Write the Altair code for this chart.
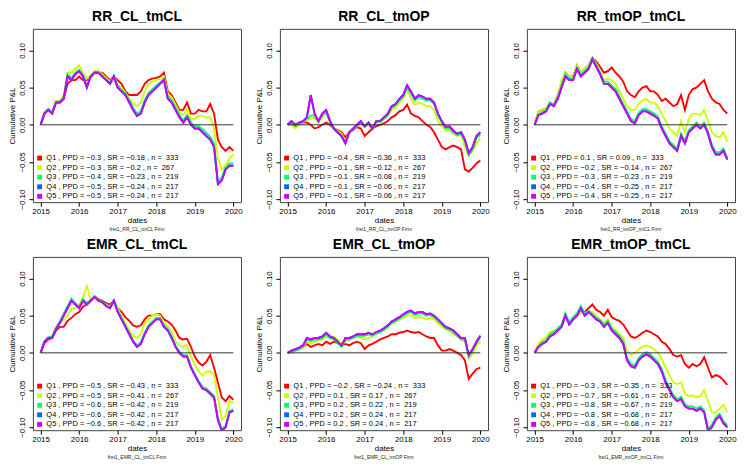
import altair as alt
import pandas as pd

FONT = "Liberation Sans"
DATES = [round(2015 + i * 0.1, 1) for i in range(51)]
COLORS = ["#FF0000", "#CCFF00", "#00FF66", "#0066FF", "#CC00FF"]
N = "n =\u00a0 "

# ---------------- RR_CL_tmCL ----------------
P1_Q1 = [0.0, 0.015, 0.02, 0.015, 0.03, 0.03, 0.035, 0.055, 0.06, 0.06, 0.065, 0.06, 0.06, 0.065, 0.07, 0.07, 0.07, 0.065, 0.06, 0.065, 0.06, 0.055, 0.045, 0.04, 0.04, 0.04, 0.045, 0.055, 0.06, 0.062, 0.063, 0.065, 0.07, 0.045, 0.04, 0.03, 0.02, 0.02, 0.03, 0.015, 0.015, 0.02, 0.018, 0.018, 0.028, 0.015, -0.02, -0.03, -0.035, -0.03, -0.035]
P1_Q2 = [0.0, 0.017, 0.022, 0.017, 0.032, 0.032, 0.04, 0.07, 0.07, 0.075, 0.08, 0.07, 0.062, 0.066, 0.072, 0.072, 0.068, 0.063, 0.058, 0.066, 0.055, 0.05, 0.043, 0.035, 0.028, 0.025, 0.03, 0.045, 0.055, 0.058, 0.06, 0.062, 0.065, 0.042, 0.037, 0.027, 0.017, 0.013, 0.022, 0.008, 0.008, 0.012, 0.012, 0.01, 0.01, -0.005, -0.045, -0.06, -0.055, -0.045, -0.04]
P1_Q3 = [0.0, 0.016, 0.021, 0.016, 0.031, 0.031, 0.037, 0.068, 0.063, 0.07, 0.074, 0.067, 0.053, 0.066, 0.071, 0.071, 0.066, 0.061, 0.057, 0.066, 0.052, 0.047, 0.042, 0.033, 0.023, 0.015, 0.018, 0.033, 0.043, 0.048, 0.053, 0.057, 0.062, 0.038, 0.033, 0.023, 0.013, 0.006, 0.013, 0.003, -0.002, -0.002, -0.006, -0.011, -0.016, -0.026, -0.076, -0.071, -0.057, -0.052, -0.052]
P1_Q5 = [0.0, 0.015, 0.02, 0.015, 0.03, 0.03, 0.035, 0.065, 0.06, 0.068, 0.072, 0.065, 0.05, 0.065, 0.07, 0.07, 0.065, 0.06, 0.055, 0.065, 0.05, 0.045, 0.04, 0.03, 0.02, 0.012, 0.015, 0.03, 0.04, 0.045, 0.05, 0.055, 0.06, 0.035, 0.03, 0.02, 0.01, 0.003, 0.01, 0.0, -0.005, -0.005, -0.01, -0.015, -0.02, -0.03, -0.08, -0.075, -0.06, -0.055, -0.055]
P1_Q4 = list(P1_Q5)
P1_LEG = ["Q1 , PPD = −0.3 , SR = −0.18 , " + N + "333",
          "Q2 , PPD = −0.3 , SR = −0.2 , " + N + "267",
          "Q3 , PPD = −0.4 , SR = −0.23 , " + N + "219",
          "Q4 , PPD = −0.5 , SR = −0.24 , " + N + "217",
          "Q5 , PPD = −0.5 , SR = −0.24 , " + N + "217"]

# ---------------- RR_CL_tmOP ----------------
P2_Q1 = [0.0, 0.003, -0.002, 0.0, 0.003, 0.003, 0.0, -0.005, -0.003, 0.0, 0.003, 0.0, -0.005, -0.007, -0.01, -0.017, -0.01, -0.007, -0.003, -0.005, -0.015, -0.01, -0.005, -0.002, 0.0, 0.002, 0.005, 0.01, 0.013, 0.018, 0.02, 0.027, 0.015, 0.012, 0.01, 0.005, 0.0, -0.003, -0.01, -0.02, -0.03, -0.033, -0.03, -0.028, -0.03, -0.033, -0.06, -0.063, -0.058, -0.052, -0.048]
P2_Q2 = [0.0, 0.0, -0.005, 0.0, 0.003, 0.007, 0.008, 0.01, 0.003, 0.01, 0.015, 0.005, -0.005, -0.008, -0.012, -0.022, -0.01, -0.005, -0.002, 0.003, -0.003, 0.0, -0.005, 0.003, 0.003, 0.008, 0.012, 0.02, 0.023, 0.03, 0.035, 0.048, 0.035, 0.027, 0.03, 0.028, 0.025, 0.025, 0.02, 0.005, -0.002, -0.008, -0.007, -0.012, -0.015, -0.013, -0.03, -0.042, -0.035, -0.025, -0.018]
P2_Q3 = [0.0, 0.004, -0.002, 0.002, 0.004, 0.008, 0.012, 0.013, 0.004, 0.013, 0.018, 0.004, -0.006, -0.011, -0.016, -0.025, -0.011, -0.006, -0.002, 0.004, -0.003, 0.002, -0.006, 0.004, 0.004, 0.008, 0.013, 0.023, 0.026, 0.033, 0.038, 0.05, 0.042, 0.033, 0.037, 0.035, 0.033, 0.033, 0.028, 0.013, 0.003, -0.005, -0.004, -0.01, -0.014, -0.012, -0.022, -0.041, -0.033, -0.018, -0.013]
P2_Q5 = [0.0, 0.005, 0.0, 0.003, 0.005, 0.01, 0.04, 0.015, 0.005, 0.015, 0.02, 0.005, -0.005, -0.01, -0.015, -0.025, -0.01, -0.005, 0.0, 0.005, -0.002, 0.003, -0.005, 0.005, 0.005, 0.01, 0.015, 0.025, 0.028, 0.035, 0.04, 0.053, 0.045, 0.035, 0.04, 0.038, 0.035, 0.035, 0.03, 0.015, 0.005, -0.003, -0.002, -0.008, -0.012, -0.01, -0.02, -0.038, -0.03, -0.015, -0.01]
P2_Q4 = list(P2_Q5)
P2_LEG = ["Q1 , PPD = −0.4 , SR = −0.36 , " + N + "333",
          "Q2 , PPD = −0.1 , SR = −0.12 , " + N + "267",
          "Q3 , PPD = −0.1 , SR = −0.08 , " + N + "219",
          "Q4 , PPD = −0.1 , SR = −0.06 , " + N + "217",
          "Q5 , PPD = −0.1 , SR = −0.06 , " + N + "217"]

# ---------------- RR_tmOP_tmCL ----------------
P3_Q1 = [0.0, 0.018, 0.02, 0.022, 0.03, 0.027, 0.04, 0.055, 0.07, 0.065, 0.065, 0.08, 0.07, 0.075, 0.08, 0.09, 0.085, 0.078, 0.07, 0.072, 0.077, 0.07, 0.065, 0.058, 0.045, 0.04, 0.037, 0.045, 0.05, 0.052, 0.045, 0.045, 0.04, 0.032, 0.035, 0.03, 0.025, 0.028, 0.04, 0.02, 0.04, 0.048, 0.05, 0.055, 0.06, 0.045, 0.035, 0.03, 0.028, 0.02, 0.015]
P3_Q2 = [0.0, 0.018, 0.02, 0.022, 0.03, 0.027, 0.04, 0.06, 0.07, 0.065, 0.065, 0.08, 0.07, 0.075, 0.08, 0.09, 0.082, 0.072, 0.06, 0.062, 0.06, 0.055, 0.045, 0.035, 0.025, 0.02, 0.02, 0.028, 0.033, 0.035, 0.03, 0.03, 0.025, 0.015, 0.005, -0.005, -0.01, -0.015, 0.005, -0.01, 0.008, 0.015, 0.015, 0.013, 0.02, 0.005, -0.01, -0.015, -0.017, -0.01, -0.023]
P3_Q3 = [0.0, 0.014, 0.017, 0.02, 0.03, 0.027, 0.037, 0.053, 0.068, 0.062, 0.062, 0.077, 0.067, 0.072, 0.077, 0.09, 0.08, 0.07, 0.058, 0.058, 0.053, 0.048, 0.038, 0.028, 0.018, 0.008, 0.005, 0.016, 0.021, 0.021, 0.018, 0.015, 0.011, -0.002, -0.012, -0.022, -0.027, -0.032, -0.012, -0.022, -0.007, -0.002, 0.003, -0.002, 0.003, -0.009, -0.027, -0.037, -0.037, -0.032, -0.044]
P3_Q5 = [0.0, 0.013, 0.015, 0.018, 0.028, 0.025, 0.035, 0.05, 0.065, 0.06, 0.06, 0.075, 0.065, 0.07, 0.075, 0.088, 0.078, 0.068, 0.055, 0.055, 0.05, 0.045, 0.035, 0.025, 0.015, 0.005, 0.002, 0.013, 0.018, 0.018, 0.015, 0.012, 0.008, -0.005, -0.015, -0.025, -0.03, -0.035, -0.015, -0.025, -0.01, -0.005, 0.0, -0.005, 0.0, -0.012, -0.03, -0.04, -0.04, -0.035, -0.047]
P3_Q4 = list(P3_Q5)
P3_LEG = ["Q1 , PPD = 0.1 , SR = 0.09 , " + N + "333",
          "Q2 , PPD = −0.2 , SR = −0.14 , " + N + "267",
          "Q3 , PPD = −0.3 , SR = −0.23 , " + N + "219",
          "Q4 , PPD = −0.4 , SR = −0.25 , " + N + "217",
          "Q5 , PPD = −0.4 , SR = −0.25 , " + N + "217"]

# ---------------- EMR_CL_tmCL ----------------
P4_Q1 = [0.0, 0.013, 0.018, 0.02, 0.03, 0.035, 0.035, 0.043, 0.047, 0.052, 0.055, 0.062, 0.065, 0.07, 0.076, 0.072, 0.07, 0.067, 0.065, 0.07, 0.06, 0.055, 0.048, 0.043, 0.037, 0.035, 0.037, 0.045, 0.05, 0.05, 0.052, 0.052, 0.045, 0.042, 0.038, 0.03, 0.02, 0.018, 0.019, 0.008, -0.005, -0.013, -0.017, -0.012, -0.003, -0.02, -0.04, -0.06, -0.065, -0.058, -0.063]
P4_Q2 = [0.0, 0.015, 0.02, 0.022, 0.033, 0.04, 0.045, 0.05, 0.06, 0.06, 0.065, 0.075, 0.09, 0.07, 0.075, 0.07, 0.068, 0.065, 0.062, 0.07, 0.06, 0.05, 0.04, 0.03, 0.023, 0.02, 0.025, 0.04, 0.045, 0.05, 0.052, 0.05, 0.04, 0.035, 0.03, 0.015, 0.01, 0.008, 0.01, -0.005, -0.015, -0.025, -0.03, -0.025, -0.025, -0.03, -0.06, -0.09, -0.085, -0.065, -0.068]
P4_Q3 = [0.0, 0.016, 0.021, 0.022, 0.034, 0.043, 0.053, 0.063, 0.073, 0.067, 0.062, 0.072, 0.067, 0.071, 0.076, 0.071, 0.069, 0.064, 0.061, 0.071, 0.057, 0.047, 0.037, 0.027, 0.017, 0.01, 0.014, 0.027, 0.037, 0.042, 0.047, 0.047, 0.037, 0.032, 0.022, 0.01, 0.002, -0.003, -0.003, -0.018, -0.028, -0.038, -0.046, -0.048, -0.053, -0.058, -0.088, -0.103, -0.098, -0.078, -0.076]
P4_Q5 = [0.0, 0.015, 0.02, 0.02, 0.032, 0.04, 0.05, 0.06, 0.07, 0.065, 0.06, 0.07, 0.065, 0.07, 0.075, 0.07, 0.068, 0.063, 0.06, 0.07, 0.055, 0.045, 0.035, 0.025, 0.015, 0.008, 0.012, 0.025, 0.035, 0.04, 0.045, 0.045, 0.035, 0.03, 0.02, 0.008, 0.0, -0.005, -0.005, -0.02, -0.03, -0.04, -0.048, -0.05, -0.055, -0.06, -0.09, -0.105, -0.1, -0.08, -0.078]
P4_Q4 = list(P4_Q5)
P4_LEG = ["Q1 , PPD = −0.5 , SR = −0.43 , " + N + "333",
          "Q2 , PPD = −0.5 , SR = −0.41 , " + N + "267",
          "Q3 , PPD = −0.6 , SR = −0.42 , " + N + "219",
          "Q4 , PPD = −0.6 , SR = −0.42 , " + N + "217",
          "Q5 , PPD = −0.6 , SR = −0.42 , " + N + "217"]

# ---------------- EMR_CL_tmOP ----------------
P5_Q1 = [0.0, 0.002, 0.003, 0.005, 0.008, 0.012, 0.008, 0.01, 0.012, 0.01, 0.015, 0.012, 0.015, 0.013, 0.01, 0.012, 0.01, 0.013, 0.015, 0.013, 0.005, 0.01, 0.012, 0.015, 0.018, 0.02, 0.022, 0.025, 0.025, 0.027, 0.028, 0.03, 0.028, 0.027, 0.028, 0.025, 0.022, 0.02, 0.02, 0.01, 0.003, 0.003, 0.005, 0.003, 0.0, -0.003, -0.01, -0.035, -0.028, -0.022, -0.02]
P5_Q2 = [0.0, 0.0, 0.003, 0.005, 0.008, 0.015, 0.012, 0.015, 0.018, 0.018, 0.022, 0.02, 0.022, 0.018, 0.012, 0.015, 0.018, 0.02, 0.022, 0.02, 0.018, 0.02, 0.022, 0.025, 0.028, 0.03, 0.035, 0.04, 0.042, 0.045, 0.047, 0.05, 0.05, 0.047, 0.048, 0.047, 0.045, 0.047, 0.045, 0.04, 0.035, 0.032, 0.03, 0.025, 0.022, 0.018, 0.015, -0.008, -0.002, 0.01, 0.015]
P5_Q3 = [0.0, 0.002, 0.003, 0.005, 0.008, 0.018, 0.016, 0.018, 0.018, 0.02, 0.025, 0.02, 0.018, 0.013, 0.008, 0.018, 0.018, 0.02, 0.023, 0.023, 0.023, 0.025, 0.023, 0.026, 0.028, 0.031, 0.035, 0.04, 0.043, 0.046, 0.05, 0.053, 0.055, 0.051, 0.053, 0.053, 0.05, 0.051, 0.048, 0.043, 0.038, 0.033, 0.031, 0.028, 0.023, 0.018, 0.018, -0.005, 0.003, 0.013, 0.021]
P5_Q5 = [0.0, 0.003, 0.005, 0.007, 0.01, 0.02, 0.018, 0.02, 0.02, 0.022, 0.027, 0.022, 0.02, 0.015, 0.01, 0.02, 0.02, 0.022, 0.025, 0.025, 0.025, 0.027, 0.025, 0.028, 0.03, 0.033, 0.037, 0.042, 0.045, 0.048, 0.052, 0.055, 0.057, 0.053, 0.055, 0.055, 0.052, 0.053, 0.05, 0.045, 0.04, 0.035, 0.033, 0.03, 0.025, 0.02, 0.02, -0.003, 0.005, 0.015, 0.023]
P5_Q4 = list(P5_Q5)
P5_LEG = ["Q1 , PPD = −0.2 , SR = −0.24 , " + N + "333",
          "Q2 , PPD = 0.1 , SR = 0.17 , " + N + "267",
          "Q3 , PPD = 0.2 , SR = 0.22 , " + N + "219",
          "Q4 , PPD = 0.2 , SR = 0.24 , " + N + "217",
          "Q5 , PPD = 0.2 , SR = 0.24 , " + N + "217"]

# ---------------- EMR_tmOP_tmCL ----------------
P6_Q1 = [0.0, 0.01, 0.015, 0.015, 0.025, 0.028, 0.03, 0.035, 0.05, 0.04, 0.045, 0.05, 0.055, 0.055, 0.06, 0.065, 0.058, 0.055, 0.05, 0.058, 0.048, 0.045, 0.043, 0.038, 0.03, 0.022, 0.02, 0.023, 0.027, 0.03, 0.028, 0.025, 0.022, 0.015, 0.012, 0.005, -0.003, -0.005, -0.003, -0.015, -0.02, -0.015, -0.018, -0.015, -0.006, -0.02, -0.033, -0.03, -0.032, -0.037, -0.043]
P6_Q2 = [0.0, 0.012, 0.018, 0.02, 0.028, 0.03, 0.03, 0.035, 0.05, 0.04, 0.045, 0.05, 0.055, 0.053, 0.055, 0.055, 0.05, 0.045, 0.04, 0.045, 0.035, 0.03, 0.025, 0.02, 0.003, -0.003, 0.0, 0.005, 0.008, 0.01, 0.008, 0.005, 0.0, -0.008, -0.02, -0.03, -0.04, -0.042, -0.04, -0.055, -0.058, -0.057, -0.06, -0.058, -0.05, -0.065, -0.08, -0.08, -0.075, -0.07, -0.08]
P6_Q3 = [0.0, 0.009, 0.014, 0.017, 0.025, 0.028, 0.033, 0.038, 0.053, 0.041, 0.048, 0.053, 0.063, 0.053, 0.057, 0.052, 0.047, 0.044, 0.038, 0.043, 0.033, 0.028, 0.023, 0.015, -0.007, -0.015, -0.017, -0.007, -0.002, 0.001, -0.002, -0.007, -0.012, -0.022, -0.037, -0.047, -0.057, -0.062, -0.059, -0.069, -0.072, -0.072, -0.075, -0.072, -0.077, -0.102, -0.097, -0.087, -0.082, -0.092, -0.097]
P6_Q5 = [0.0, 0.008, 0.012, 0.015, 0.022, 0.025, 0.03, 0.035, 0.05, 0.038, 0.045, 0.05, 0.06, 0.05, 0.055, 0.05, 0.045, 0.042, 0.035, 0.04, 0.03, 0.025, 0.02, 0.012, -0.01, -0.018, -0.02, -0.01, -0.005, -0.002, -0.005, -0.01, -0.015, -0.025, -0.04, -0.05, -0.06, -0.065, -0.062, -0.072, -0.075, -0.075, -0.078, -0.075, -0.08, -0.105, -0.1, -0.09, -0.085, -0.095, -0.1]
P6_Q4 = list(P6_Q5)
P6_LEG = ["Q1 , PPD = −0.3 , SR = −0.35 , " + N + "333",
          "Q2 , PPD = −0.7 , SR = −0.61 , " + N + "267",
          "Q3 , PPD = −0.8 , SR = −0.67 , " + N + "219",
          "Q4 , PPD = −0.8 , SR = −0.68 , " + N + "217",
          "Q5 , PPD = −0.8 , SR = −0.68 , " + N + "217"]

PANELS = [
    ("RR_CL_tmCL", [P1_Q1, P1_Q2, P1_Q3, P1_Q4, P1_Q5], P1_LEG),
    ("RR_CL_tmOP", [P2_Q1, P2_Q2, P2_Q3, P2_Q4, P2_Q5], P2_LEG),
    ("RR_tmOP_tmCL", [P3_Q1, P3_Q2, P3_Q3, P3_Q4, P3_Q5], P3_LEG),
    ("EMR_CL_tmCL", [P4_Q1, P4_Q2, P4_Q3, P4_Q4, P4_Q5], P4_LEG),
    ("EMR_CL_tmOP", [P5_Q1, P5_Q2, P5_Q3, P5_Q4, P5_Q5], P5_LEG),
    ("EMR_tmOP_tmCL", [P6_Q1, P6_Q2, P6_Q3, P6_Q4, P6_Q5], P6_LEG),
]

W, H = 209, 174
X_TICKS = [2015, 2016, 2017, 2018, 2019, 2020]
Y_TICKS = [-0.1, -0.05, 0.0, 0.05, 0.1]


def panel(name, series, labels):
    rows = []
    for lab, vals in zip(labels, series):
        assert len(vals) == len(DATES)
        for d, v in zip(DATES, vals):
            rows.append({"date": d, "pnl": v, "series": lab})
    df = pd.DataFrame(rows)
    xs = alt.Scale(domain=[2014.8, 2020.2], nice=False, zero=False)
    ys = alt.Scale(domain=[-0.104, 0.129], nice=False, zero=False)
    x_enc = alt.X("date:Q", scale=xs,
                  axis=alt.Axis(values=X_TICKS, format="d", title="dates", labelAngle=0,
                                labelPadding=1, titlePadding=1, labelFlush=False))
    y_enc = alt.Y("pnl:Q", scale=ys,
                  axis=alt.Axis(values=Y_TICKS, format=".2f", title="Cumulative P&L",
                                labelAngle=-90, labelAlign="center", labelBaseline="bottom",
                                labelPadding=2, titlePadding=2))
    cscale = alt.Scale(domain=labels, range=COLORS)
    # legend-only layer: filled squares (no rows pass the filter)
    key = alt.Chart(df).transform_filter("datum.pnl > 1").mark_square(size=25, opacity=1).encode(
        x=x_enc, y=y_enc,
        color=alt.Color("series:N", scale=cscale,
                        legend=alt.Legend(orient="none", legendX=3, legendY=H - 48, title=None,
                                          symbolType="square", symbolSize=24, symbolStrokeWidth=0,
                                          symbolOpacity=1,
                                          labelFontSize=7.5, labelFont=FONT, labelColor="black",
                                          rowPadding=0.6, labelOffset=3, labelLimit=0, padding=0)),
    )
    lines = alt.Chart(df).mark_line(strokeWidth=1.9, clip=True).encode(
        x=x_enc, y=y_enc,
        color=alt.Color("series:N", scale=cscale, legend=None),
    )
    zero = alt.Chart(pd.DataFrame({"z": [0]})).mark_rule(color="#333", strokeWidth=1).encode(
        x=alt.datum(2015), x2=alt.datum(2020), y=alt.datum(0)
    )
    sub = alt.Chart(pd.DataFrame({"t": ["fret1_" + name + " Firm"]})).mark_text(
        font=FONT, fontSize=5, color="#222", baseline="middle", align="center"
    ).encode(text="t:N", x=alt.value(W / 2), y=alt.value(H + 27))
    return alt.layer(key, lines, zero, sub).properties(
        width=W, height=H,
        title=alt.TitleParams(name, fontSize=14, fontWeight="bold", font=FONT,
                              anchor="middle", frame="group", offset=5, color="black"),
    )


charts = [panel(n, s, l) for n, s, l in PANELS]
chart = alt.concat(*charts, columns=3, spacing={"row": 55, "column": 39}, bounds="flush").resolve_scale(
    color="independent"
).resolve_legend(color="independent").properties(
    padding={"left": 0, "top": 0, "right": 2, "bottom": 2}
).configure_axis(
    labelFont=FONT, titleFont=FONT, labelFontSize=8, titleFontSize=8, titleFontWeight="normal",
    labelColor="black", titleColor="black", tickColor="black", tickSize=4, domain=False, grid=False,
).configure_view(stroke="#444", strokeWidth=1)

chart.save("out.html", embed_options={"renderer": "svg", "actions": False})
